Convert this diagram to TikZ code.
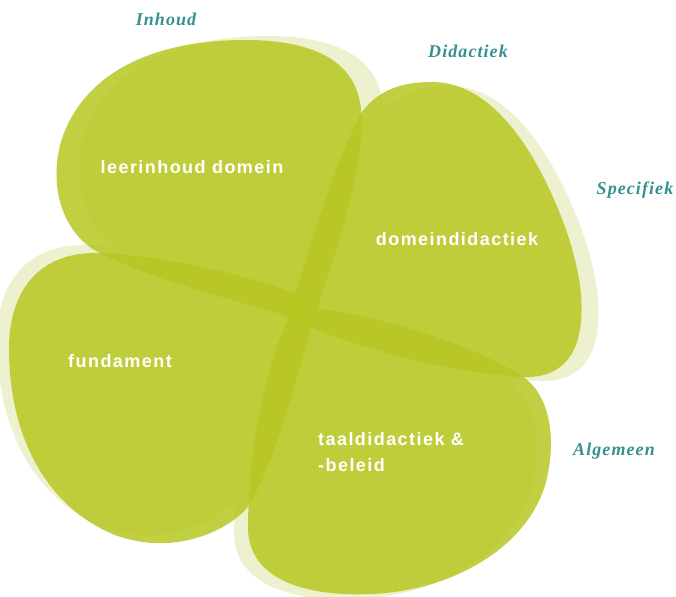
\documentclass[tikz,border=0pt]{standalone}
\usepackage{fontspec}
\setmainfont{Liberation Sans}
\newfontfamily\lblfont[LetterSpace=6]{Liberation Serif}
\newfontfamily\leaffont[LetterSpace=8]{Liberation Sans}
\definecolor{leafgreen}{RGB}{183,199,34}
\definecolor{leafshadow}{RGB}{237,241,208}
\definecolor{tealtext}{RGB}{52,145,144}
\tikzset{
  leafA/.style={insert path={(312,325) .. controls (338,245) and (366,165) .. (361,110)
      .. controls (357,62) and (315,40) .. (245,40)
      .. controls (150,40) and (80,75) .. (60,145)
      .. controls (48,195) and (68,238) .. (100,253)
      .. controls (170,288) and (262,305) .. (312,325) -- cycle}},
  leafB/.style={insert path={(287,318) .. controls (310,250) and (335,160) .. (362,112)
      .. controls (380,88) and (405,82) .. (432,82)
      .. controls (485,82) and (525,135) .. (552,195)
      .. controls (576,248) and (590,305) .. (576,345)
      .. controls (566,370) and (546,378) .. (522,377)
      .. controls (440,372) and (350,345) .. (287,318) -- cycle}},
  leafC/.style={insert path={(318,303) .. controls (260,276) and (160,255) .. (100,253)
      .. controls (38,251) and (8,292) .. (9,352)
      .. controls (10,432) and (42,502) .. (110,533)
      .. controls (170,558) and (226,532) .. (247,508)
      .. controls (276,462) and (296,380) .. (318,303) -- cycle}},
  leafD/.style={insert path={(295,306) .. controls (380,314) and (470,344) .. (522,376)
      .. controls (552,396) and (556,442) .. (546,482)
      .. controls (530,542) and (460,590) .. (372,594)
      .. controls (302,597) and (250,578) .. (248,530)
      .. controls (248,450) and (265,360) .. (295,306) -- cycle}},
  shadowfill/.style={fill=leafshadow},
  leaffill/.style={fill=leafgreen,fill opacity=0.85},
  leaftext/.style={text=white,font=\leaffont\fontsize{18}{22}\selectfont\bfseries,inner sep=0pt},
  sidelabel/.style={text=tealtext,font=\lblfont\fontsize{18}{22}\selectfont\bfseries\itshape,inner sep=0pt}
}
\begin{document}
\begin{tikzpicture}[x=1pt,y=-1pt]
\useasboundingbox[fill=white] (0,0) rectangle (676,596);
% shadows
\path[shadowfill,shift={(22,-4)},leafA];
\path[shadowfill,shift={(17,4)},leafB];
\path[shadowfill,shift={(-12,-8)},leafC];
\path[shadowfill,shift={(-14,5)},leafD];
% leaves
\path[leaffill,leafA];
\path[leaffill,leafB];
\path[leaffill,leafC];
\path[leaffill,leafD];
% leaf texts
\node[leaftext] (inhoud) at (192,167) {leerinhoud domein};
\node[leaftext] (domein) at (457,239) {domeindidactiek};
\node[leaftext] (fund) at (120,361) {fundament};
\node[leaftext,anchor=west,align=left] (taal) at (318,452) {taaldidactiek \&\\[4pt]-beleid};
% side labels
\node[sidelabel] (lInhoud) at (166,19) {Inhoud};
\node[sidelabel] (lDidactiek) at (468,51) {Didactiek};
\node[sidelabel] (lSpecifiek) at (635,190) {Specifiek};
\node[sidelabel] (lAlgemeen) at (614,451) {Algemeen};
\end{tikzpicture}
\end{document}
